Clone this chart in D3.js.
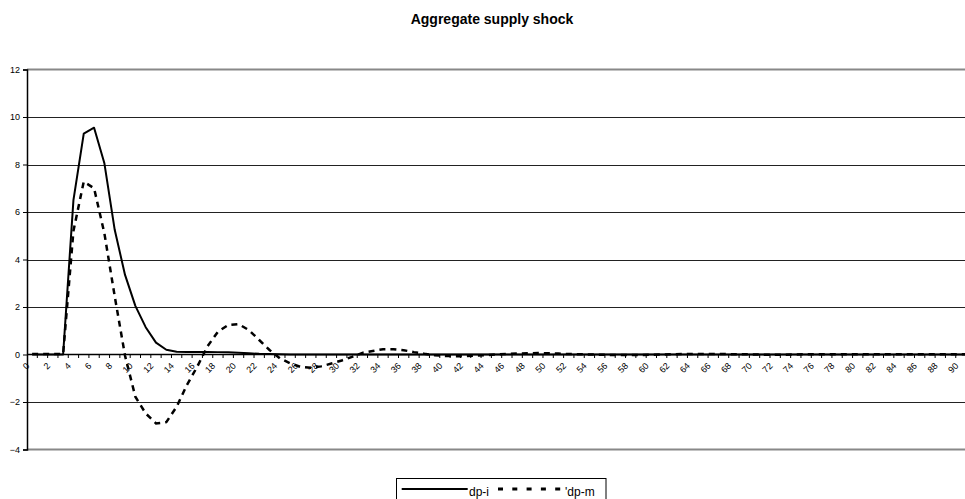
<!DOCTYPE html>
<html>
<head>
<meta charset="utf-8">
<script src="https://cdn.jsdelivr.net/npm/d3@7"></script>
<style>
  body { margin: 0; background: #fff; }
  svg { display: block; font-family: "Liberation Sans", Arial, sans-serif; }
</style>
</head>
<body>
<div id="chart"></div>
<script>
// periods on the category axis
const categories = [
   0,  1,  2,  3,  4,  5,  6,  7,  8,  9, 10, 11, 12, 13, 14, 15, 16, 17, 18, 19,
  20, 21, 22, 23, 24, 25, 26, 27, 28, 29, 30, 31, 32, 33, 34, 35, 36, 37, 38, 39,
  40, 41, 42, 43, 44, 45, 46, 47, 48, 49, 50, 51, 52, 53, 54, 55, 56, 57, 58, 59,
  60, 61, 62, 63, 64, 65, 66, 67, 68, 69, 70, 71, 72, 73, 74, 75, 76, 77, 78, 79,
  80, 81, 82, 83, 84, 85, 86, 87, 88, 89, 90, 91
];

const dpI = [
  0, 0, 0, 0, 6.5, 9.3, 9.55, 8.05, 5.25, 3.35,
  2.05, 1.15, 0.5, 0.2, 0.12, 0.11, 0.11, 0.11, 0.1, 0.09,
  0.07, 0.05, 0.03, 0.02, 0.01, 0, 0, 0, 0, 0,
  0, 0, 0, 0, 0, 0, 0, 0, 0, 0,
  0, 0, 0, 0, 0, 0, 0, 0, 0, 0,
  0, 0, 0, 0, 0, 0, 0, 0, 0, 0,
  0, 0, 0, 0, 0, 0, 0, 0, 0, 0,
  0, 0, 0, 0, 0, 0, 0, 0, 0, 0,
  0, 0, 0, 0, 0, 0, 0, 0, 0, 0,
  0, 0
];

const dpM = [
  0.02, 0.02, 0.02, 0.02, 5.2, 7.28, 7.0, 5.1, 2.45, -0.05,
  -1.78, -2.48, -2.9, -2.85, -2.2, -1.28, -0.51, 0.35, 0.96, 1.24,
  1.28, 1.03, 0.61, 0.19, -0.16, -0.37, -0.52, -0.56, -0.5, -0.38,
  -0.25, -0.1, 0.07, 0.15, 0.22, 0.22, 0.18, 0.1, 0.03, -0.03,
  -0.06, -0.07, -0.07, -0.05, -0.03, 0, 0.02, 0.04, 0.05, 0.06,
  0.05, 0.04, 0.02, 0.01, 0, -0.01, -0.02, -0.02, -0.02, -0.02,
  -0.01, 0, 0.01, 0.02, 0.02, 0.02, 0.02, 0.02, 0.01, 0.01,
  0, -0.01, -0.01, -0.01, 0, 0.01, 0.01, 0.01, 0.01, 0.01,
  0.01, 0.01, 0.01, 0.01, 0.01, 0.01, 0.01, 0.01, 0.01, 0.01,
  0.01, 0.01
];

const yTicks = [-4, -2, 0, 2, 4, 6, 8, 10, 12];
const xLabels = categories.filter(c => c % 2 === 0);
const seriesNames = ["dp-i", "'dp-m"];

const width = 965, height = 499;
const plot = { left: 27, top: 69.5, right: 976.4, bottom: 449.5 };

const svg = d3.select('#chart')
  .append('svg')
  .attr('width', width)
  .attr('height', height);

const x = d3.scaleBand()
  .domain(categories)
  .range([plot.left, plot.right])
  .padding(0);

const y = d3.scaleLinear()
  .domain([-4, 12])
  .range([plot.bottom, plot.top]);

const cx = d => x(d) + x.bandwidth() / 2;

// title
svg.append('text')
  .attr('x', 492)
  .attr('y', 24)
  .attr('text-anchor', 'middle')
  .style('font-size', '14px')
  .style('font-weight', 'bold')
  .text('Aggregate supply shock');

// gridlines
svg.append('g')
  .selectAll('line')
  .data(yTicks.filter(t => t !== 0 && t !== 12 && t !== -4))
  .enter()
  .append('line')
  .attr('x1', plot.left)
  .attr('x2', width)
  .attr('y1', d => Math.round(y(d)) + 0.5)
  .attr('y2', d => Math.round(y(d)) + 0.5)
  .style('stroke', '#222')
  .style('stroke-width', 1);

// plot area top / bottom border
[12, -4].forEach(v => {
  svg.append('line')
    .attr('x1', plot.left)
    .attr('x2', width)
    .attr('y1', y(v))
    .attr('y2', y(v))
    .style('stroke', '#888')
    .style('stroke-width', 2);
});

// y axis
const yAxis = svg.append('g')
  .attr('transform', `translate(${plot.left},0)`)
  .call(d3.axisLeft(y).tickValues(yTicks).tickSize(4).tickPadding(3).tickFormat(d3.format('d')));
yAxis.select('.domain').style('stroke', '#000').style('stroke-width', 1.5);
yAxis.selectAll('.tick line').style('stroke', '#000');
yAxis.selectAll('text')
  .style('font-size', '9px')
  .style('font-family', '"Liberation Sans", Arial, sans-serif')
  .style('fill', '#000');

// x axis at zero
const xg = svg.append('g');
xg.append('line')
  .attr('x1', plot.left)
  .attr('x2', width)
  .attr('y1', y(0))
  .attr('y2', y(0))
  .style('stroke', '#000')
  .style('stroke-width', 1.5);
xg.selectAll('.xtick')
  .data(categories)
  .enter()
  .append('line')
  .attr('x1', d => x(d) + x.bandwidth())
  .attr('x2', d => x(d) + x.bandwidth())
  .attr('y1', y(0))
  .attr('y2', y(0) + 3.5)
  .style('stroke', '#000');
xg.selectAll('.xlabel')
  .data(xLabels)
  .enter()
  .append('text')
  .attr('text-anchor', 'end')
  .attr('transform', d => `translate(${cx(d) - 2},${y(0) + 12}) rotate(-45)`)
  .style('font-size', '9px')
  .text(d => d);

// series
const line = d3.line()
  .x((d, i) => cx(categories[i]))
  .y(d => y(d));

svg.append('path')
  .datum(dpI)
  .attr('d', line)
  .style('fill', 'none')
  .style('stroke', '#000')
  .style('stroke-width', 2)
  .style('stroke-linejoin', 'round');

svg.append('path')
  .datum(dpM)
  .attr('d', line)
  .style('fill', 'none')
  .style('stroke', '#000')
  .style('stroke-width', 2.5)
  .style('stroke-dasharray', '6,5');

// legend
const lg = svg.append('g');
lg.append('rect')
  .attr('x', 396.5)
  .attr('y', 478.5)
  .attr('width', 209.5)
  .attr('height', 26)
  .style('fill', '#fff')
  .style('stroke', '#000')
  .style('stroke-width', 1);
lg.append('line')
  .attr('x1', 401.7).attr('x2', 467.7)
  .attr('y1', 489).attr('y2', 489)
  .style('stroke', '#000')
  .style('stroke-width', 2);
lg.append('text')
  .attr('x', 469)
  .attr('y', 496)
  .style('font-size', '12px')
  .text(seriesNames[0]);
lg.append('line')
  .attr('x1', 498).attr('x2', 562)
  .attr('y1', 489).attr('y2', 489)
  .style('stroke', '#000')
  .style('stroke-width', 3)
  .style('stroke-dasharray', '5,9.3');
lg.append('text')
  .attr('x', 565)
  .attr('y', 496)
  .style('font-size', '12px')
  .text(seriesNames[1]);
</script>
</body>
</html>
